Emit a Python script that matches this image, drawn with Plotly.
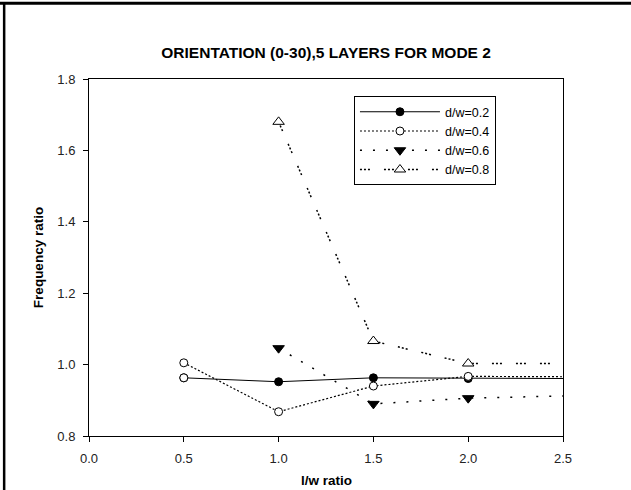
import plotly.graph_objects as go

# ---- data ----
lw_ratio = [0.5, 1.0, 1.5, 2.0, 2.5]
dw02 = [0.963, 0.952, 0.963, 0.961, 0.961]
dw04 = [1.005, 0.868, 0.940, 0.967, 0.966]
lw_ratio_b = [1.0, 1.5, 2.0, 2.5]
dw06 = [1.046, 0.890, 0.906, 0.912]
dw08 = [1.680, 1.066, 1.003, 1.003]
series_names = ["d/w=0.2", "d/w=0.4", "d/w=0.6", "d/w=0.8"]
x_ticks = [0.0, 0.5, 1.0, 1.5, 2.0, 2.5]
y_ticks = [0.8, 1.0, 1.2, 1.4, 1.6, 1.8]

FONT = "Arial, 'Liberation Sans', sans-serif"
BLACK = "#000000"
CLEAR = "rgba(0,0,0,0)"


def colors(n, c):
    # last point (at the right axis edge) has no visible marker
    return [c] * (n - 1) + [CLEAR]


fig = go.Figure()

n1 = len(lw_ratio)
n2 = len(lw_ratio_b)

fig.add_trace(go.Scatter(
    x=lw_ratio, y=dw02, name=series_names[0], mode="lines+markers",
    line=dict(color=BLACK, width=1),
    marker=dict(symbol="circle", size=8, color=colors(n1, BLACK),
                line=dict(color=colors(n1, BLACK), width=1)),
))
# the first d/w=0.2 point is drawn with an open symbol in the original
fig.add_trace(go.Scatter(
    x=lw_ratio[:1], y=dw02[:1], mode="markers", showlegend=False,
    marker=dict(symbol="circle", size=8, color="white",
                line=dict(color=BLACK, width=1)),
))
fig.add_trace(go.Scatter(
    x=lw_ratio, y=dw04, name=series_names[1], mode="lines+markers",
    line=dict(color=BLACK, width=1.2, dash="2px,2px"),
    marker=dict(symbol="circle", size=8, color=colors(n1, "white"),
                line=dict(color=colors(n1, BLACK), width=1)),
))
fig.add_trace(go.Scatter(
    x=lw_ratio_b, y=dw06, name=series_names[2], mode="lines+markers",
    line=dict(color=BLACK, width=1.5, dash="2px,11px"),
    marker=dict(symbol="triangle-down", size=10, color=colors(n2, BLACK),
                line=dict(color=colors(n2, BLACK), width=1)),
))
fig.add_trace(go.Scatter(
    x=lw_ratio_b, y=dw08, name=series_names[3], mode="lines+markers",
    line=dict(color=BLACK, width=1.5, dash="2px,2px,2px,2px,2px,14px"),
    marker=dict(symbol="triangle-up", size=10, color=colors(n2, "white"),
                line=dict(color=colors(n2, BLACK), width=1)),
))

axis_common = dict(
    showline=True, linecolor=BLACK, linewidth=1, mirror=True,
    ticks="outside", ticklen=5, tickcolor=BLACK, tickwidth=1,
    showgrid=False, zeroline=False,
    tickfont=dict(family=FONT, size=13, color="#222222"),
)

fig.update_layout(
    width=631, height=490,
    margin=dict(l=89, r=68, t=79, b=54, autoexpand=False),
    paper_bgcolor="white", plot_bgcolor="white",
    font=dict(family=FONT, color=BLACK),
    title=dict(text="<b>ORIENTATION (0-30),5 LAYERS FOR MODE 2</b>",
               font=dict(family=FONT, size=15.5, color=BLACK),
               x=0.5168, xanchor="center", y=0.892, yanchor="middle"),
    xaxis=dict(range=[0, 2.5], tickvals=x_ticks, tickformat=".1f",
               ticklabelstandoff=5, automargin=False, **axis_common),
    yaxis=dict(range=[0.8, 1.8], tickvals=y_ticks, tickformat=".1f",
               ticklabelstandoff=5,
               title=dict(text="<b>Frequency ratio</b>", font=dict(family=FONT, size=13.5),
                          standoff=10),
               automargin=False, **axis_common),
    legend=dict(x=0.559, y=0.952, xanchor="left", yanchor="top",
                bordercolor=BLACK, borderwidth=1, bgcolor="white",
                font=dict(family=FONT, size=12.5, color=BLACK),
                itemwidth=80, entrywidth=62, entrywidthmode="pixels",
                tracegroupgap=0),
    showlegend=True,
)

# x-axis title, sitting at the very bottom edge of the page as in the original
fig.add_annotation(text="<b>l/w ratio</b>", xref="paper", yref="paper",
                   x=0.5, y=-0.151, xanchor="center", yanchor="bottom",
                   showarrow=False, font=dict(family=FONT, size=13.5, color=BLACK))

# page frame lines (top and left borders)
fig.add_shape(type="line", xref="paper", yref="paper",
              x0=-0.2, x1=1.2, y0=1.212, y1=1.212,
              line=dict(color=BLACK, width=3))
fig.add_shape(type="line", xref="paper", yref="paper",
              x0=-0.179, x1=-0.179, y0=1.215, y1=-0.16,
              line=dict(color=BLACK, width=2.5))

fig.write_html("out.html")
